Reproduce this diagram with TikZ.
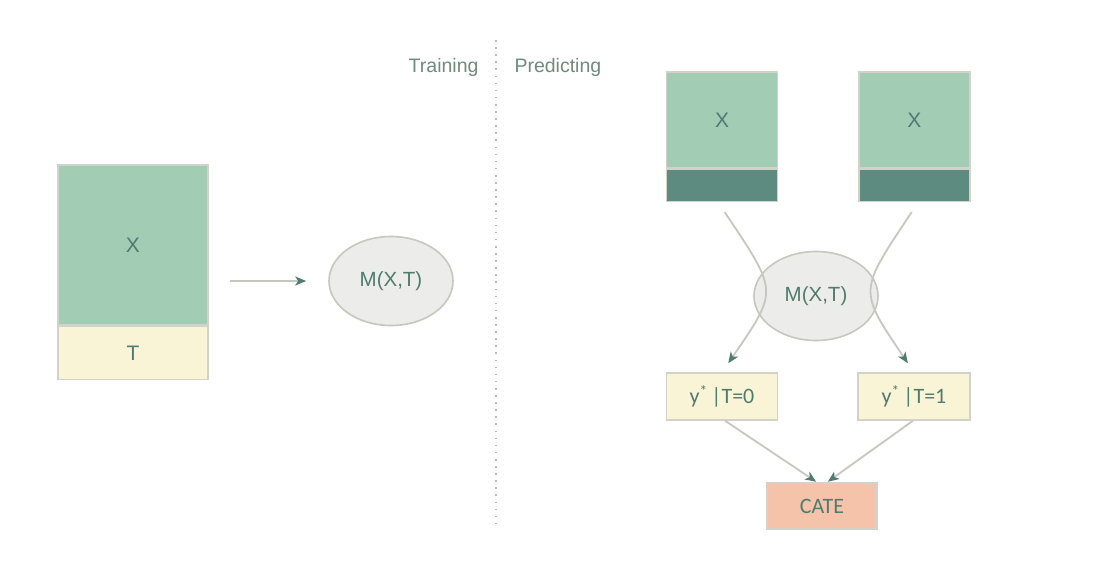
\documentclass[tikz,border=0pt]{standalone}
\usepackage{fontspec}
\setmainfont{Liberation Sans}
\newfontfamily\boxfont{Carlito}
\usepackage{xcolor}
\definecolor{featGreen}{HTML}{A2CCB4}
\definecolor{featDark}{HTML}{5E8B7F}
\definecolor{treatYellow}{HTML}{FAF4D7}
\definecolor{cateSalmon}{HTML}{F4C3A9}
\definecolor{modelGray}{HTML}{ECECEA}
\definecolor{edgeGray}{HTML}{D2D2CA}
\definecolor{lineGray}{HTML}{C6C8BE}
\definecolor{textTeal}{HTML}{4F7B70}
\definecolor{labelGray}{HTML}{6F8A7F}
\usetikzlibrary{shapes.geometric,arrows.meta,positioning}
\tikzset{
    block/.style={
        draw=edgeGray,
        line width=1.4pt,
        rectangle,
        inner sep=0pt,
        text=textTeal,
        font=\fontsize{21}{25}\selectfont
    },
    model/.style={
        draw=lineGray,
        fill=modelGray,
        ellipse,
        line width=1.6pt,
        inner sep=0pt,
        minimum width=124pt,
        minimum height=89pt,
        text=textTeal,
        font=\fontsize{20.5}{24}\selectfont
    },
    predbox/.style={
        block,
        fill=treatYellow,
        minimum width=111pt,
        minimum height=47pt,
        font=\boxfont\fontsize{22}{26}\selectfont
    },
    phase/.style={
        text=labelGray,
        font=\fontsize{19.5}{23}\selectfont
    },
    arrow/.style={
        -{Stealth[length=11pt,width=9pt,inset=3pt,color=textTeal]},
        line width=1.8pt,
        color=lineGray
    }
}

\begin{document}
\begin{tikzpicture}[x=1pt,y=-1pt]
    \useasboundingbox[fill=white] (0,0) rectangle (1099,574);

    % Training side
    \node[block, fill=featGreen, minimum width=150pt, minimum height=160pt] (xtrain) at (133,245) {X};
    \node[block, fill=treatYellow, minimum width=150pt, minimum height=53pt, below=0pt of xtrain] (ttrain) {T};
    \node[model] (mtrain) at (391,281) {M(X,T)};

    % Divider
    \coordinate (divtop) at (496,40);
    \coordinate (divbot) at (496,525);
    \draw[lineGray!80!gray, line width=1.6pt, dash pattern=on 1.6pt off 5.5pt] (divtop) -- (divbot);
    \node[phase, anchor=east] (train) at (482,67) {Training};
    \node[phase, anchor=west] (predict) at (511,67) {Predicting};

    % Predicting side
    \node[block, fill=featGreen, minimum width=111pt, minimum height=96pt] (xa) at (722,120) {X};
    \node[block, fill=featDark, minimum width=111pt, minimum height=32pt, below=0pt of xa] (ta) {};
    \node[block, fill=featGreen, minimum width=111pt, minimum height=96pt, right=80pt of xa] (xb) {X};
    \node[block, fill=featDark, minimum width=111pt, minimum height=32pt, below=0pt of xb] (tb) {};
    \node[model] (mpred) at (816,296) {M(X,T)};
    \node[predbox] (y0) at (722,396.5) {y\textsuperscript{*}\,|T=0};
    \node[predbox, minimum width=112pt] (y1) at (914,396.5) {y\textsuperscript{*}\,|T=1};
    \node[predbox, fill=cateSalmon, minimum width=110pt, minimum height=46pt] (cate) at (822,506) {CATE};

    % Arrows
    \draw[arrow, shorten <=21pt, shorten >=22pt] (xtrain.east |- mtrain.west) -- (mtrain.west);
    \draw[arrow, shorten <=12pt, shorten >=11pt] ([xshift=-4pt]ta.south) .. controls +(60,90) and +(57,-83) .. (y0.north);
    \draw[arrow, shorten <=12pt, shorten >=11pt] ([xshift=4pt]tb.south) .. controls +(-60,90) and +(-56,-83) .. (y1.north);
    \draw[arrow, shorten >=1pt] ([xshift=3pt]y0.south) -- ([xshift=-5pt]cate.north);
    \draw[arrow, shorten >=1pt] ([xshift=-1pt]y1.south) -- ([xshift=5pt]cate.north);
\end{tikzpicture}
\end{document}
